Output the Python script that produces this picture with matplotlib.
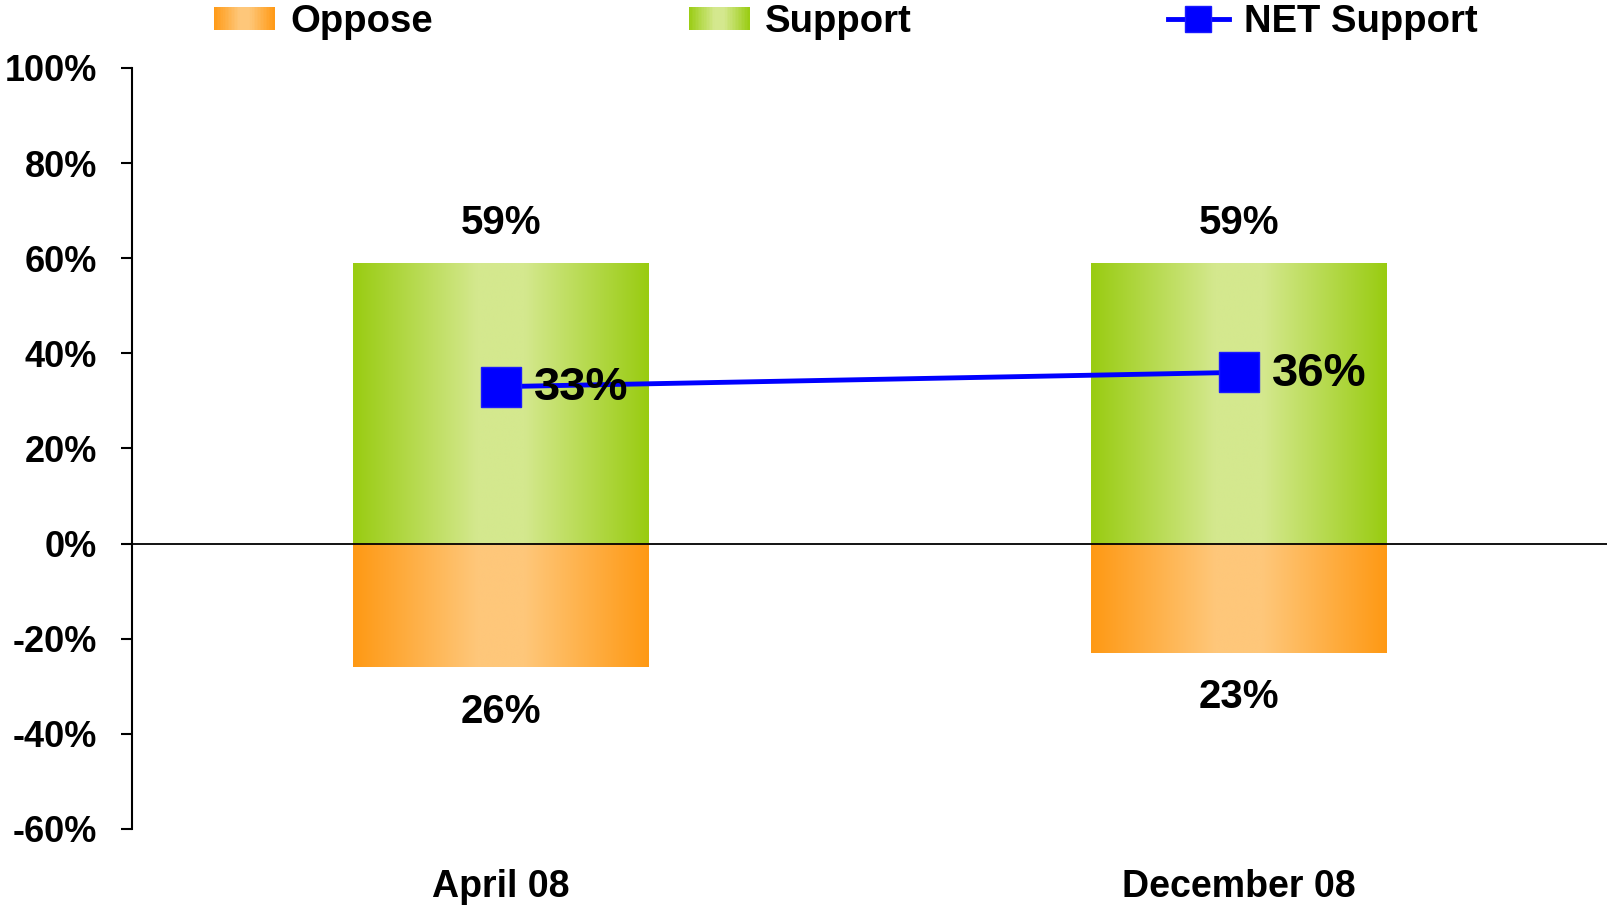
import numpy as np
import matplotlib
matplotlib.use('Agg')
import matplotlib.pyplot as plt
from matplotlib.colors import LinearSegmentedColormap
from matplotlib.patches import Rectangle
from matplotlib.legend_handler import HandlerBase

# datos
periods = ['April 08', 'December 08']
support = [59, 59]
oppose = [26, 23]
net_support = [33, 36]
y_ticks = [-60, -40, -20, 0, 20, 40, 60, 80, 100]

plt.rcParams['font.family'] = ['Liberation Sans', 'DejaVu Sans']
plt.rcParams['font.weight'] = 'bold'

green_cmap = LinearSegmentedColormap.from_list(
    'green', [(0, '#99CC11'), (0.42, '#D4E88E'), (0.58, '#D4E88E'), (1, '#99CC11')])
orange_cmap = LinearSegmentedColormap.from_list(
    'orange', [(0, '#FF9914'), (0.42, '#FEC77A'), (0.58, '#FEC77A'), (1, '#FF9914')])


class GradientHandler(HandlerBase):
    def __init__(self, cmap):
        super().__init__()
        self.cmap = cmap

    def create_artists(self, legend, orig_handle, xdescent, ydescent,
                       width, height, fontsize, trans):
        n = 40
        arts = []
        for k in range(n):
            r = Rectangle((-xdescent + width * k / n, -ydescent), width / n * 1.05, height,
                          facecolor=self.cmap((k + 0.5) / n), edgecolor='none',
                          transform=trans)
            arts.append(r)
        return arts


fig = plt.figure(figsize=(16.08, 9.06), dpi=100)
ax = fig.add_axes([0.0821, 0.085, 0.9179, 0.84])

x = np.arange(len(periods))
sup_bars = ax.bar(x, support, width=0.4, color='none', linewidth=0)
opp_bars = ax.bar(x, [-v for v in oppose], width=0.4, color='none', linewidth=0)

grad = np.linspace(0, 1, 256).reshape(1, -1)


def fill_gradient(bars, cmap):
    for b in bars:
        x0, y0 = b.get_x(), b.get_y()
        w, h = b.get_width(), b.get_height()
        ax.imshow(grad, cmap=cmap, extent=[x0, x0 + w, y0, y0 + h],
                  aspect='auto', zorder=1, interpolation='bilinear')


fill_gradient(sup_bars, green_cmap)
fill_gradient(opp_bars, orange_cmap)

ax.axhline(0, color='black', lw=1.3, zorder=2)

net_line = ax.plot(x, net_support, color='#0000FF', lw=3.5, marker='s', ms=29,
                   mec='#1A1AFF', zorder=3)

for i in range(len(periods)):
    ax.annotate(f'{support[i]}%', (x[i], support[i]), xytext=(0, 29),
                textcoords='offset points', ha='center', va='center', fontsize=29)
    ax.annotate(f'{oppose[i]}%', (x[i], -oppose[i]), xytext=(0, -32),
                textcoords='offset points', ha='center', va='center', fontsize=29)
    ax.annotate(f'{net_support[i]}%', (x[i], net_support[i]), xytext=(24, -1),
                textcoords='offset points', ha='left', va='center', fontsize=34, zorder=4)

ax.set_xlim(-0.5, 1.5)
ax.set_ylim(-60, 100)
ax.set_yticks(y_ticks)
ax.set_yticklabels([f'{v}%' for v in y_ticks], fontsize=26)
ax.set_xticks(x)
ax.set_xticklabels(periods, fontsize=27)
ax.tick_params(axis='x', length=0, pad=29)
ax.tick_params(axis='y', length=8, width=1.5, pad=17)

for s in ['top', 'right', 'bottom']:
    ax.spines[s].set_visible(False)
ax.spines['left'].set_linewidth(1.5)

fig.legend([opp_bars, sup_bars, net_line[0]], ['Oppose', 'Support', 'NET Support'],
           handler_map={opp_bars: GradientHandler(orange_cmap),
                        sup_bars: GradientHandler(green_cmap)},
           loc='center', bbox_to_anchor=(0.526, 0.976), ncol=3, frameon=False,
           prop={'weight': 'bold', 'size': 27.5}, columnspacing=6.7, handlelength=1.6,
           handleheight=0.55, handletextpad=0.4, markerscale=0.65, borderpad=0)

fig.savefig('out.png', dpi=100)
plt.close(fig)
